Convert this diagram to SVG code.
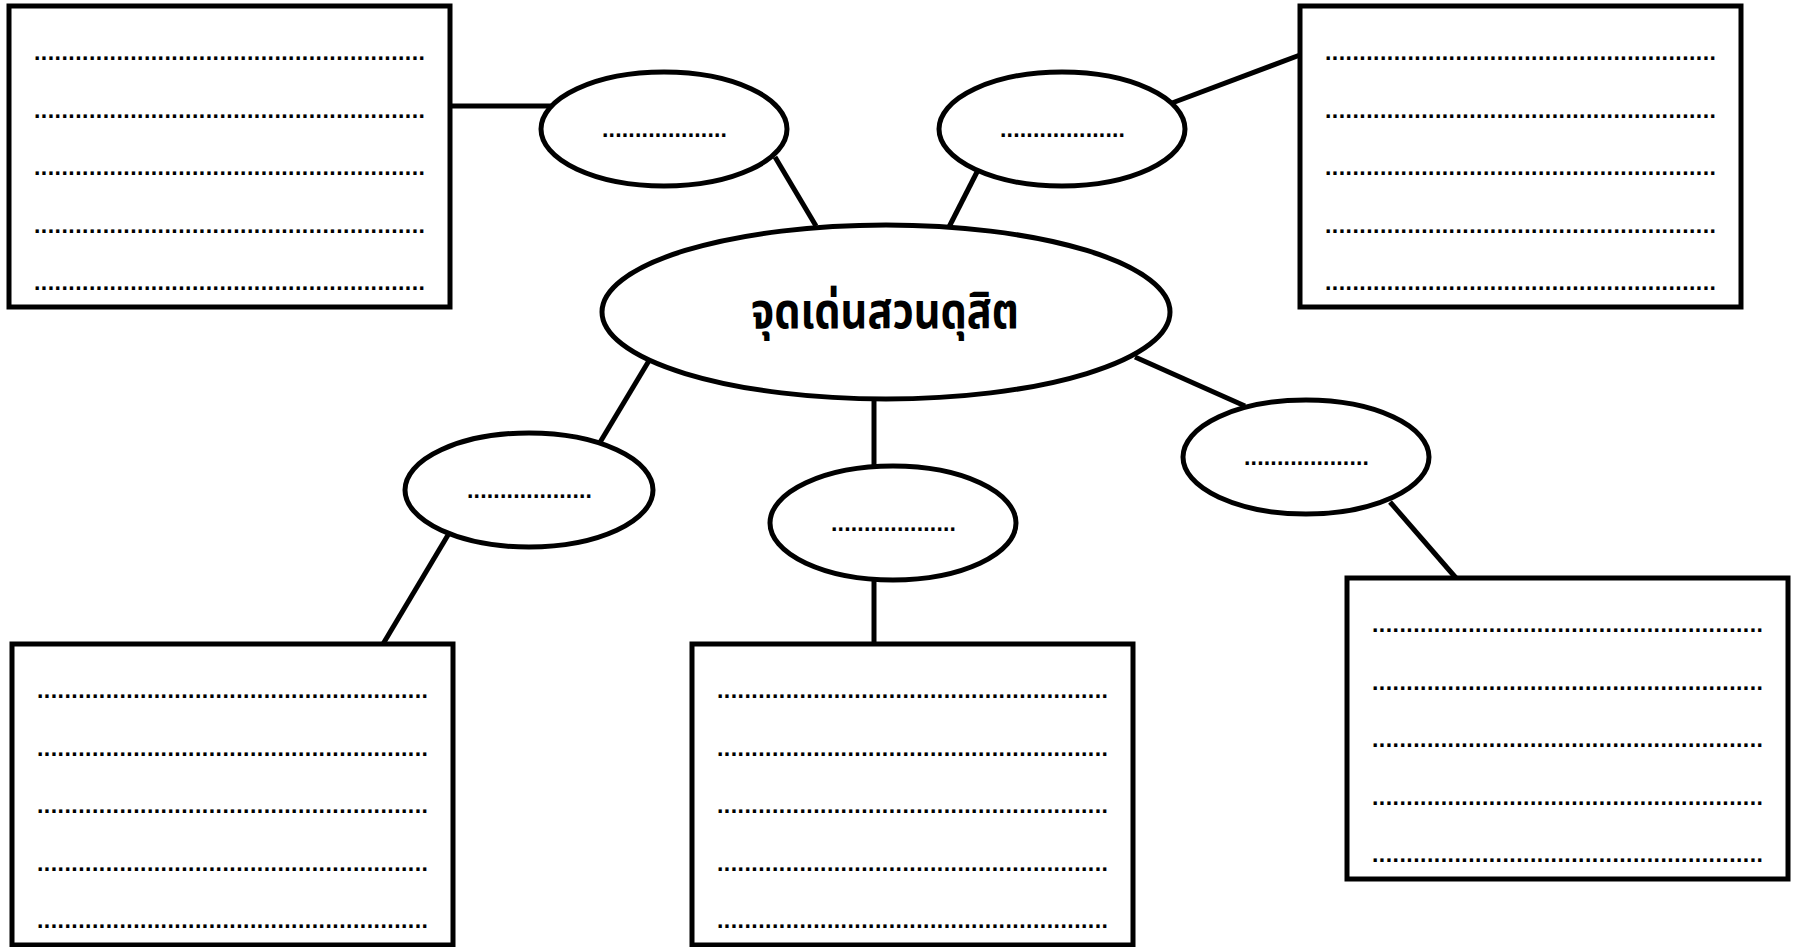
<svg xmlns="http://www.w3.org/2000/svg" width="1798" height="947" viewBox="0 0 1798 947">
<style>
.box{fill:#fff;stroke:#000;stroke-width:5;stroke-linejoin:miter}
.ell{fill:#fff;stroke:#000;stroke-width:5}
.con line{stroke:#000;stroke-width:5}
.dots{font-family:"Liberation Sans",Arial,sans-serif;font-size:23px;font-weight:bold;fill:#000}
.title{font-family:"Noto Sans Thai","Noto Sans","Tahoma","DejaVu Sans",sans-serif;font-size:50px;font-weight:bold;fill:#000}
</style>
<rect width="1798" height="947" fill="#fff"/>
<g id="connectors" class="con">
<line x1="450" y1="106" x2="552" y2="106"/>
<line x1="775" y1="157" x2="816" y2="226"/>
<line x1="977" y1="172" x2="949" y2="227"/>
<line x1="1172" y1="103" x2="1300" y2="55"/>
<line x1="650" y1="359" x2="599" y2="444"/>
<line x1="451" y1="530" x2="383" y2="644"/>
<line x1="874" y1="401" x2="874" y2="466"/>
<line x1="874" y1="581" x2="874" y2="644"/>
<line x1="1135" y1="357" x2="1245" y2="406"/>
<line x1="1390" y1="502" x2="1456" y2="578"/>
</g>
<g id="box-tl">
<rect class="box" x="9" y="6" width="441" height="301"/>
<text class="dots" x="34" y="60" textLength="391" lengthAdjust="spacing">.........................................................</text>
<text class="dots" x="34" y="117.5" textLength="391" lengthAdjust="spacing">.........................................................</text>
<text class="dots" x="34" y="175" textLength="391" lengthAdjust="spacing">.........................................................</text>
<text class="dots" x="34" y="232.5" textLength="391" lengthAdjust="spacing">.........................................................</text>
<text class="dots" x="34" y="290" textLength="391" lengthAdjust="spacing">.........................................................</text>
</g>
<g id="box-tr">
<rect class="box" x="1300" y="6" width="441" height="301"/>
<text class="dots" x="1325" y="60" textLength="391" lengthAdjust="spacing">.........................................................</text>
<text class="dots" x="1325" y="117.5" textLength="391" lengthAdjust="spacing">.........................................................</text>
<text class="dots" x="1325" y="175" textLength="391" lengthAdjust="spacing">.........................................................</text>
<text class="dots" x="1325" y="232.5" textLength="391" lengthAdjust="spacing">.........................................................</text>
<text class="dots" x="1325" y="290" textLength="391" lengthAdjust="spacing">.........................................................</text>
</g>
<g id="box-bl">
<rect class="box" x="12" y="644" width="441" height="301"/>
<text class="dots" x="37" y="698" textLength="391" lengthAdjust="spacing">.........................................................</text>
<text class="dots" x="37" y="755.5" textLength="391" lengthAdjust="spacing">.........................................................</text>
<text class="dots" x="37" y="813" textLength="391" lengthAdjust="spacing">.........................................................</text>
<text class="dots" x="37" y="870.5" textLength="391" lengthAdjust="spacing">.........................................................</text>
<text class="dots" x="37" y="928" textLength="391" lengthAdjust="spacing">.........................................................</text>
</g>
<g id="box-bm">
<rect class="box" x="692" y="644" width="441" height="301"/>
<text class="dots" x="717" y="698" textLength="391" lengthAdjust="spacing">.........................................................</text>
<text class="dots" x="717" y="755.5" textLength="391" lengthAdjust="spacing">.........................................................</text>
<text class="dots" x="717" y="813" textLength="391" lengthAdjust="spacing">.........................................................</text>
<text class="dots" x="717" y="870.5" textLength="391" lengthAdjust="spacing">.........................................................</text>
<text class="dots" x="717" y="928" textLength="391" lengthAdjust="spacing">.........................................................</text>
</g>
<g id="box-br">
<rect class="box" x="1347" y="578" width="441" height="301"/>
<text class="dots" x="1372" y="632" textLength="391" lengthAdjust="spacing">.........................................................</text>
<text class="dots" x="1372" y="689.5" textLength="391" lengthAdjust="spacing">.........................................................</text>
<text class="dots" x="1372" y="747" textLength="391" lengthAdjust="spacing">.........................................................</text>
<text class="dots" x="1372" y="804.5" textLength="391" lengthAdjust="spacing">.........................................................</text>
<text class="dots" x="1372" y="862" textLength="391" lengthAdjust="spacing">.........................................................</text>
</g>
<g id="center">
<ellipse class="ell" cx="886" cy="312" rx="284" ry="87"/>
<text class="title" x="885" y="328" text-anchor="middle" textLength="268" lengthAdjust="spacingAndGlyphs">จุดเด่นสวนดุสิต</text>
</g>
<g id="oval-tl">
<ellipse class="ell" cx="664" cy="129" rx="123" ry="57"/>
<text class="dots" x="602" y="137" textLength="125" lengthAdjust="spacing">...................</text>
</g>
<g id="oval-tr">
<ellipse class="ell" cx="1062" cy="129" rx="123" ry="57"/>
<text class="dots" x="1000" y="137" textLength="125" lengthAdjust="spacing">...................</text>
</g>
<g id="oval-bl">
<ellipse class="ell" cx="529" cy="490" rx="124" ry="57"/>
<text class="dots" x="467" y="498" textLength="125" lengthAdjust="spacing">...................</text>
</g>
<g id="oval-bm">
<ellipse class="ell" cx="893" cy="523" rx="123" ry="57"/>
<text class="dots" x="831" y="531" textLength="125" lengthAdjust="spacing">...................</text>
</g>
<g id="oval-br">
<ellipse class="ell" cx="1306" cy="457" rx="123" ry="57"/>
<text class="dots" x="1244" y="465" textLength="125" lengthAdjust="spacing">...................</text>
</g>
</svg>
